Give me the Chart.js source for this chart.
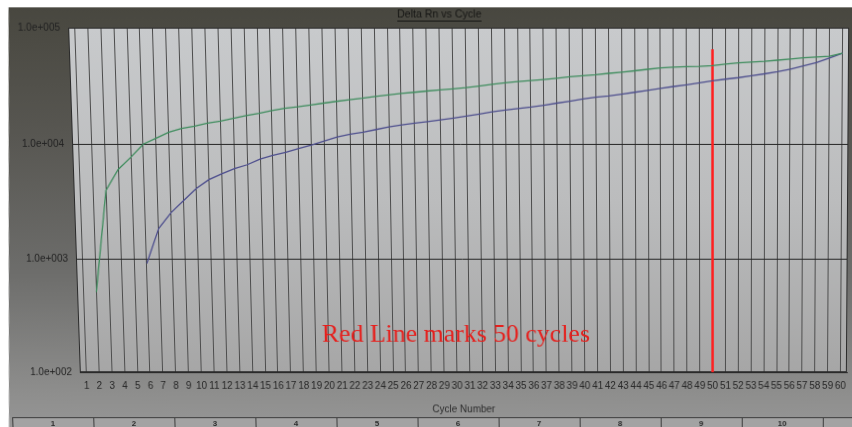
<!DOCTYPE html>
<html>
<head>
<meta charset="utf-8">
<script src="https://cdn.jsdelivr.net/npm/chart.js@4/dist/chart.umd.min.js"></script>
<style>
  html, body { margin: 0; padding: 0; background: #ffffff; }
  #wrap { position: relative; width: 852px; height: 427px; overflow: hidden; background: #ffffff; }
  /* the screen is seen slightly from below: keystone tilt */
  #plot { display: block; transform-origin: 720px 200px; transform: perspective(1000px) rotateX(-3deg); }
</style>
</head>
<body>
<div id="wrap"><canvas id="plot" width="870" height="440"></canvas></div>
<script>
// Cycle numbers shown along the x axis
const cycleTicks = [1,2,3,4,5,6,7,8,9,10,11,12,13,14,15,16,17,18,19,20,
  21,22,23,24,25,26,27,28,29,30,31,32,33,34,35,36,37,38,39,40,
  41,42,43,44,45,46,47,48,49,50,51,52,53,54,55,56,57,58,59,60];

// Log-scale decades and their labels
const yTickValues = [100, 1000, 10000, 100000];
const yTickLabels = ['1.0e+002', '1.0e+003', '1.0e+004', '1.0e+005'];

// Delta Rn, green trace: cycles 2..60
const greenCycles = [2,3,4,5,6,7,8,9,10,11,12,13,14,15,16,17,18,19,20,
  21,22,23,24,25,26,27,28,29,30,31,32,33,34,35,36,37,38,39,40,
  41,42,43,44,45,46,47,48,49,50,51,52,53,54,55,56,57,58,59,60];
const greenRn = [510,3940,6000,7650,9950,11200,12600,13600,14200,15100,15700,16600,17600,18400,19400,20300,20900,21700,22500,
  23300,24100,24800,25700,26500,27300,27900,28600,29300,29900,30600,31500,32600,33600,34500,35200,36000,36900,37900,38800,
  39500,40600,41600,42700,44000,45200,45900,46300,46600,47300,48800,50000,50800,51500,52700,54000,55200,56200,57000,60500];

// Delta Rn, blue trace: cycles 6..60
const blueCycles = [6,7,8,9,10,11,12,13,14,15,16,17,18,19,20,
  21,22,23,24,25,26,27,28,29,30,31,32,33,34,35,36,37,38,39,40,
  41,42,43,44,45,46,47,48,49,50,51,52,53,54,55,56,57,58,59,60];
const blueRn = [910,1840,2530,3220,4100,4900,5500,6100,6600,7400,7950,8450,9100,9800,10600,
  11500,12100,12600,13300,14000,14600,15100,15600,16100,16700,17400,18100,18900,19600,20200,20800,21600,22500,23400,24400,
  25300,26000,26900,27900,29000,30200,31300,32400,33700,35000,36200,37300,38700,40200,42000,44200,47000,50200,55000,60500];

// Vertical marker at cycle 50
const markCycle = 50;
const markSpan = [100, 65400];
const markNote = 'Red Line marks 50 cycles';

// Well columns listed in the strip under the plot
const wellColumns = ['1','2','3','4','5','6','7','8','9','10'];

const chartTitle = 'Delta Rn vs Cycle';
const xTitle = 'Cycle Number';

const toPoints = (xs, ys) => xs.map((x, i) => ({ x: x, y: ys[i] }));

const panel = {
  id: 'panel',
  beforeDraw(chart) {
    const { ctx, chartArea: a, width, height } = chart;
    ctx.save();
    // screen surround
    let g = ctx.createLinearGradient(0, 0, 0, height);
    g.addColorStop(0, '#47463e');
    g.addColorStop(0.3, '#575651');
    g.addColorStop(0.62, '#6d6d6b');
    g.addColorStop(0.9, '#8e8e8d');
    g.addColorStop(1, '#989898');
    ctx.fillStyle = g;
    ctx.fillRect(0, 0, width, height);
    // paper edge around the screen
    ctx.fillStyle = '#ffffff';
    ctx.fillRect(0, 0, width, 9);
    ctx.beginPath();
    ctx.moveTo(0, 0);
    ctx.lineTo(16, 0);
    ctx.lineTo(0, height);
    ctx.closePath();
    ctx.fill();
    // plot face
    g = ctx.createLinearGradient(0, a.top, 0, a.bottom);
    g.addColorStop(0, '#c8cacc');
    g.addColorStop(0.5, '#bbbcbd');
    g.addColorStop(1, '#a6a6a6');
    ctx.fillStyle = g;
    ctx.fillRect(a.left, a.top, a.right - a.left, a.bottom - a.top);
    ctx.restore();
  },
  beforeDatasetsDraw(chart) {
    const { ctx, chartArea: a } = chart;
    ctx.save();
    ctx.strokeStyle = '#2a2a2a';
    ctx.lineWidth = 1;
    ctx.strokeRect(a.left + 0.5, a.top + 0.5, a.right - a.left - 1, a.bottom - a.top - 1);
    // annotation text
    ctx.fillStyle = '#e61f1c';
    ctx.font = '26px "Liberation Serif", "Times New Roman", serif';
    ctx.textBaseline = 'alphabetic';
    ctx.textAlign = 'left';
    ctx.fillText(markNote, 319, 343);
    ctx.restore();
  },
  afterDraw(chart) {
    const { ctx, width, height } = chart;
    ctx.save();
    // title in the dark header band
    ctx.fillStyle = '#161614';
    ctx.font = '10.5px "Liberation Sans", Arial, sans-serif';
    ctx.textAlign = 'center';
    ctx.textBaseline = 'middle';
    ctx.fillText(chartTitle, 442, 16.5);
    const tw = ctx.measureText(chartTitle).width;
    ctx.fillRect(442 - tw / 2, 22, tw, 1);
    // well column strip
    const x0 = 4, cw = 82, top = 420;
    ctx.fillStyle = '#a3a3a3';
    ctx.fillRect(x0, top, width - x0, height - top);
    ctx.strokeStyle = '#3a3a3a';
    ctx.lineWidth = 1;
    ctx.beginPath();
    ctx.moveTo(x0, top + 0.5);
    ctx.lineTo(width, top + 0.5);
    for (let i = 0; i <= wellColumns.length; i++) {
      const x = Math.round(x0 + i * cw) + 0.5;
      ctx.moveTo(x, top);
      ctx.lineTo(x, height);
    }
    ctx.stroke();
    ctx.fillStyle = '#2b2b2b';
    ctx.font = 'bold 8px "Liberation Sans", Arial, sans-serif';
    wellColumns.forEach((t, i) => ctx.fillText(t, x0 + (i + 0.5) * cw, 426.5));
    ctx.restore();
  }
};

new Chart(document.getElementById('plot'), {
  type: 'line',
  data: {
    datasets: [
      { label: 'Green', data: toPoints(greenCycles, greenRn), borderColor: '#3f8d5e', borderWidth: 1.3,
        pointRadius: 0, tension: 0, fill: false },
      { label: 'Blue', data: toPoints(blueCycles, blueRn), borderColor: '#4e4f8e', borderWidth: 1.3,
        pointRadius: 0, tension: 0, fill: false },
      { label: 'Cycle 50', data: markSpan.map(v => ({ x: markCycle, y: v })), borderColor: '#ff1f1f', borderWidth: 2.5,
        pointRadius: 0, fill: false }
    ]
  },
  options: {
    responsive: false,
    animation: false,
    devicePixelRatio: 1,
    layout: { padding: { top: 29, right: 22, left: 0, bottom: 12 } },
    plugins: { legend: { display: false }, tooltip: { enabled: false }, title: { display: false } },
    scales: {
      x: {
        type: 'linear', min: 0.5, max: 60.5,
        afterBuildTicks: s => { s.ticks = cycleTicks.map(v => ({ value: v })); },
        afterFit: s => { s.height = 54; },
        ticks: { autoSkip: false, maxRotation: 0, minRotation: 0, padding: 8, color: '#262626',
          font: { family: '"Liberation Sans", Arial, sans-serif', size: 10 }, callback: v => String(v) },
        grid: { color: '#4c4c4c', lineWidth: 1, drawTicks: false },
        border: { color: '#2a2a2a', width: 1 },
        title: { display: true, text: xTitle, color: '#2c2c2c', padding: { top: 0, bottom: 10 },
          font: { family: '"Liberation Sans", Arial, sans-serif', size: 10 } }
      },
      y: {
        type: 'logarithmic', min: 100, max: 100000,
        afterBuildTicks: s => { s.ticks = yTickValues.map(v => ({ value: v })); },
        afterFit: s => { s.width = 74; },
        ticks: { padding: 8, color: '#222222', font: { family: '"Liberation Sans", Arial, sans-serif', size: 10 },
          callback: v => yTickLabels[yTickValues.indexOf(v)] },
        grid: { color: '#242424', lineWidth: 1, drawTicks: false },
        border: { color: '#2a2a2a', width: 1 }
      }
    }
  },
  plugins: [panel]
});
</script>
</body>
</html>
